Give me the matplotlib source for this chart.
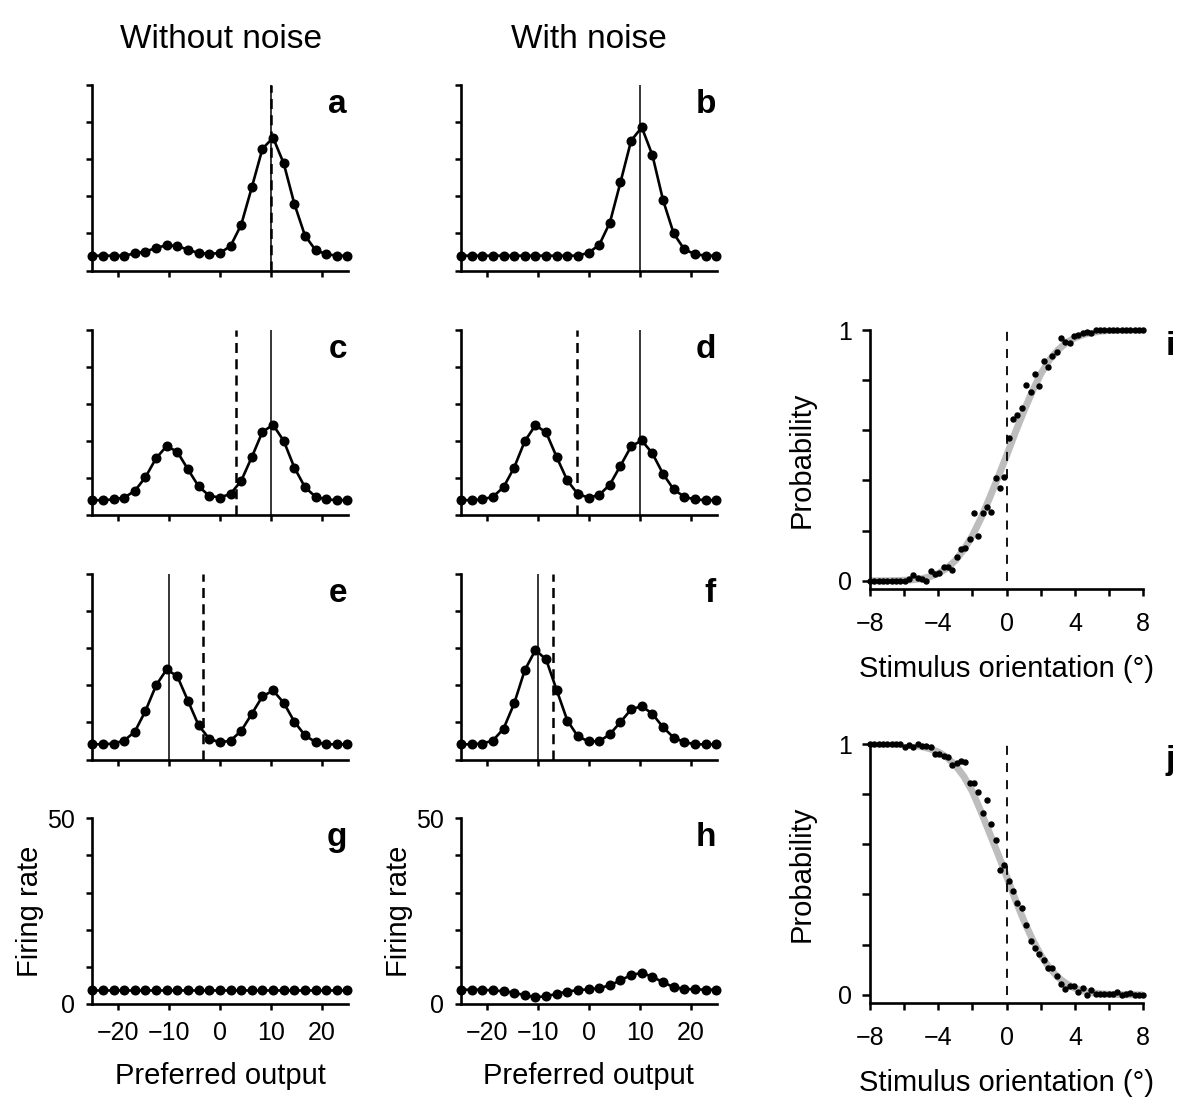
import numpy as np
import matplotlib.pyplot as plt

plt.rcParams['font.family'] = ['Liberation Sans', 'DejaVu Sans']

# population responses, 25 neurons with preferred outputs -25..25
preferred = np.linspace(-25, 25, 25)
rate_a = [4.0, 4.0, 4.0, 4.0, 4.6, 5.1, 6.1, 6.8, 6.6, 5.6, 4.7, 4.5, 4.7,
          6.6, 12.3, 22.4, 32.8, 35.8, 28.9, 18.0, 9.4, 5.5, 4.4, 4.0, 4.0]
rate_b = [4.0, 4.0, 4.0, 4.0, 4.0, 4.0, 4.0, 4.0, 4.0, 4.0, 4.0, 4.0, 4.8,
          6.9, 12.9, 23.8, 35.0, 38.6, 31.1, 19.0, 10.0, 5.7, 4.4, 4.0, 4.0]
rate_c = [4.0, 4.0, 4.2, 4.7, 6.5, 10.2, 15.3, 18.6, 17.0, 12.3, 7.7, 5.2, 4.7,
          5.7, 9.2, 15.6, 22.4, 24.3, 20.0, 12.8, 7.5, 4.9, 4.2, 4.0, 4.0]
rate_d = [4.0, 4.0, 4.2, 4.9, 7.5, 12.8, 19.9, 24.2, 22.3, 15.6, 9.3, 5.6, 4.7,
          5.4, 8.2, 13.3, 18.5, 20.1, 16.6, 11.1, 6.9, 4.9, 4.2, 4.0, 4.0]
rate_e = [4.1, 4.1, 4.3, 5.1, 7.5, 13.1, 20.0, 24.3, 22.4, 15.8, 9.2, 5.6, 4.6,
          5.1, 7.7, 12.3, 17.0, 18.6, 15.3, 10.2, 6.5, 4.7, 4.1, 4.1, 4.1]
rate_f = [4.1, 4.1, 4.3, 5.1, 8.3, 15.1, 24.1, 29.5, 27.0, 18.7, 10.5, 6.2, 4.9,
          4.9, 6.8, 10.1, 13.5, 14.4, 12.3, 8.7, 5.9, 4.7, 4.1, 4.1, 4.1]
rate_g = [3.8] * 25
rate_h = [3.8, 3.8, 3.8, 3.6, 3.4, 3.0, 2.3, 1.8, 2.0, 2.7, 3.3, 3.7, 3.9,
          4.2, 5.0, 6.3, 7.8, 8.3, 7.3, 5.8, 4.5, 4.0, 3.9, 3.8, 3.8]

panel_rates = [rate_a, rate_b, rate_c, rate_d, rate_e, rate_f, rate_g, rate_h]
panel_names = ['a', 'b', 'c', 'd', 'e', 'f', 'g', 'h']
solid_x = [10, 10, 10, 10, -10, -10, None, None]
dashed_x = [10, None, 3.1, -2.3, -3.4, -7.0, None, None]

# psychometric data
orientation = np.linspace(-8, 8, 64)
prob_i = [0, 0, 0, 0, 0, 0, 0, 0, 0,
          0.007, 0.023, 0.011, 0.008, 0.001, 0.037, 0.028, 0.031, 0.055, 0.055,
          0.044, 0.093, 0.126, 0.131, 0.167, 0.269, 0.179, 0.269, 0.296, 0.273,
          0.408, 0.369, 0.412,
          0.568, 0.647, 0.663, 0.688, 0.781, 0.753, 0.823, 0.777, 0.878, 0.854,
          0.896, 0.914, 0.967, 0.954, 0.950, 0.977, 0.980, 0.989, 0.993, 0.987,
          1.0, 1.0, 1, 1, 1, 1, 1, 1, 1, 1, 1, 1]
prob_j = [1, 1, 1, 1, 1, 1, 1, 1,
          0.987, 0.997, 0.989, 0.999, 0.993, 0.992, 0.987,
          0.960, 0.960, 0.952, 0.947, 0.915, 0.926, 0.931, 0.927,
          0.846, 0.844, 0.807, 0.725, 0.775, 0.681, 0.616, 0.497, 0.519,
          0.453, 0.413, 0.367, 0.347, 0.279,
          0.215, 0.188, 0.164, 0.139, 0.106, 0.106, 0.075,
          0.042, 0.025, 0.036, 0.033, 0.012, 0.029, 0.0, 0.019,
          0.003, 0.005, 0.003, 0.004, 0.002, 0.011, 0.0, 0.003, 0.006, 0.0, 0.0, 0.0]
fit_x = np.arange(-8, 8.5, 0.5)
fit_i = [0, 0, 0, 0.001, 0.002, 0.004, 0.008, 0.016, 0.029, 0.050, 0.081, 0.125,
         0.180, 0.250, 0.330, 0.413, 0.500, 0.590, 0.675, 0.755, 0.825, 0.880,
         0.920, 0.950, 0.969, 0.982, 0.990, 0.995, 0.998, 0.999, 1.0, 1.0, 1.0]
fit_j = [1.0, 1.0, 1.0, 0.999, 0.998, 0.995, 0.990, 0.981, 0.968, 0.947, 0.915,
         0.870, 0.810, 0.730, 0.645, 0.560, 0.472, 0.381, 0.297, 0.222, 0.158,
         0.107, 0.070, 0.044, 0.026, 0.015, 0.008, 0.004, 0.002, 0.001, 0.0, 0.0, 0.0]

W, H = 1200, 1111
fig = plt.figure(figsize=(W / 100, H / 100), dpi=100)


def px_axes(left, top, width, height):
    return fig.add_axes([left / W, 1 - (top + height) / H, width / W, height / H])


def style(ax):
    for s in ['top', 'right']:
        ax.spines[s].set_visible(False)
    for s in ['left', 'bottom']:
        ax.spines[s].set_linewidth(1.9)


row_tops = [85, 329.5, 574, 818.3]
col_lefts = [92.3, 461]
for n in range(8):
    row, col = n // 2, n % 2
    ax = px_axes(col_lefts[col], row_tops[row], 255.7, 185.5)
    style(ax)
    if solid_x[n] is not None:
        ax.axvline(solid_x[n], color='black', lw=1.1, zorder=1)
    if dashed_x[n] is not None:
        ax.axvline(dashed_x[n], color='black', lw=1.8, ls=(0, (4, 2.5)), zorder=1)
    ax.plot(preferred, panel_rates[n], color='black', lw=1.9, marker='o',
            markersize=6.2, clip_on=False, zorder=3)
    ax.set_xlim(-25, 25.1)
    ax.set_ylim(0, 50)
    ax.set_xticks([-20, -10, 0, 10, 20])
    ax.set_yticks([0, 10, 20, 30, 40, 50])
    ax.tick_params(direction='out', length=4.5, width=1.8, labelsize=18, pad=8)
    if row == 3:
        ax.set_xticklabels(['\u221220', '\u221210', '0', '10', '20'])
        ax.set_yticklabels(['0', '', '', '', '', '50'])
        ax.set_xlabel('Preferred output', fontsize=21, labelpad=12)
        ax.set_ylabel('Firing rate', fontsize=21, labelpad=2)
    else:
        ax.set_xticklabels([])
        ax.set_yticklabels([])
    ax.text(0.996, 0.849, panel_names[n], transform=ax.transAxes, ha='right',
            va='baseline', fontsize=24, fontweight='bold')

fig.text(221 / W, 1 - 40 / H, 'Without noise', ha='center', va='center', fontsize=24)
fig.text(589 / W, 1 - 40 / H, 'With noise', ha='center', va='center', fontsize=24)

for top, prob, fit, name in [(330, prob_i, fit_i, 'i'), (744, prob_j, fit_j, 'j')]:
    ax = px_axes(870, top, 273.3, 259.3)
    style(ax)
    ax.plot(fit_x, fit, color='#bdbdbd', lw=5, solid_capstyle='butt', zorder=1)
    ax.plot([0, 0], [0, 1], color='black', lw=1.3, ls=(0, (5, 4.5)), zorder=2)
    ax.plot(orientation, prob, 'o', color='black', markersize=3.6,
            clip_on=False, zorder=3)
    ax.set_xlim(-8, 8)
    ax.set_ylim(-0.034, 1)
    ax.set_xticks(range(-8, 9, 2))
    ax.set_xticklabels(['\u22128', '', '\u22124', '', '0', '', '4', '', '8'])
    ax.set_yticks([0, 0.2, 0.4, 0.6, 0.8, 1.0])
    ax.set_yticklabels(['0', '', '', '', '', '1'])
    ax.tick_params(axis='x', direction='out', length=5, width=1.8, labelsize=18, pad=11)
    ax.tick_params(axis='y', direction='out', length=6, width=1.8, labelsize=18, pad=7)
    ax.set_xlabel('Stimulus orientation (\u00b0)', fontsize=21, labelpad=14)
    ax.set_ylabel('Probability', fontsize=21, labelpad=16)
    ax.text(1.116, 0.904, name, transform=ax.transAxes, ha='right',
            va='baseline', fontsize=24, fontweight='bold')

fig.savefig('out.png', dpi=100)
